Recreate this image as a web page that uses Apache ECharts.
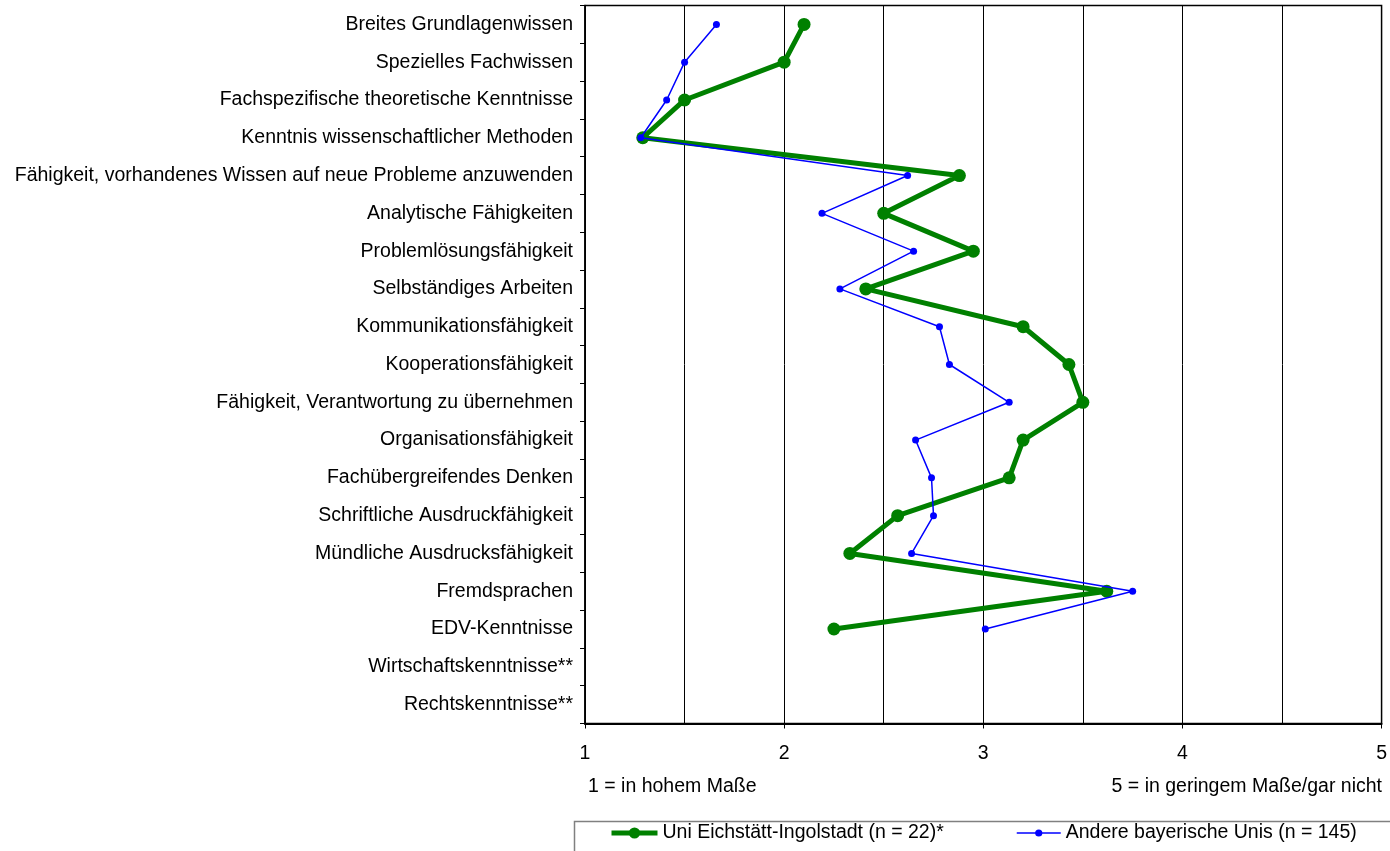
<!DOCTYPE html>
<html>
<head>
<meta charset="utf-8">
<script src="https://cdn.jsdelivr.net/npm/echarts@6/dist/echarts.min.js"></script>
<style>
html,body{margin:0;padding:0;background:#fff;}
#chart{width:1390px;height:851px;}
</style>
</head>
<body>
<div id="chart"></div>
<script>
var categories = [
  "Breites Grundlagenwissen",
  "Spezielles Fachwissen",
  "Fachspezifische theoretische Kenntnisse",
  "Kenntnis wissenschaftlicher Methoden",
  "Fähigkeit, vorhandenes Wissen auf neue Probleme anzuwenden",
  "Analytische Fähigkeiten",
  "Problemlösungsfähigkeit",
  "Selbständiges Arbeiten",
  "Kommunikationsfähigkeit",
  "Kooperationsfähigkeit",
  "Fähigkeit, Verantwortung zu übernehmen",
  "Organisationsfähigkeit",
  "Fachübergreifendes Denken",
  "Schriftliche Ausdruckfähigkeit",
  "Mündliche Ausdrucksfähigkeit",
  "Fremdsprachen",
  "EDV-Kenntnisse",
  "Wirtschaftskenntnisse**",
  "Rechtskenntnisse**"
];
var eichstaett = [2.10, 2.00, 1.50, 1.29, 2.88, 2.50, 2.95, 2.41, 3.20, 3.43, 3.50, 3.20, 3.13, 2.57, 2.33, 3.62, 2.25, null, null];
var andere = [1.66, 1.50, 1.41, 1.28, 2.62, 2.19, 2.65, 2.28, 2.78, 2.83, 3.13, 2.66, 2.74, 2.75, 2.64, 3.75, 3.01, null, null];
var seriesNames = ["Uni Eichstätt-Ingolstadt (n = 22)*", "Andere bayerische Unis (n = 145)"];
var scaleNotes = ["1 = in hohem Maße", "5 = in geringem Maße/gar nicht"];

var FONT = "Liberation Sans, Arial, sans-serif";
var FS = 19.5;
var chart = echarts.init(document.getElementById('chart'), null, {renderer: 'canvas'});
chart.setOption({
  animation: false,
  backgroundColor: '#fff',
  grid: {left: 585, right: 8, top: 5.5, bottom: 127.5, show: true, borderColor: '#000', borderWidth: 1.5},
  xAxis: {
    type: 'value', min: 1, max: 5, interval: 1,
    axisLine: {show: true, onZero: false, lineStyle: {color: '#000', width: 2}},
    axisTick: {show: true, length: 5, lineStyle: {color: '#000'}},
    axisLabel: {fontFamily: FONT, fontSize: FS, color: '#000', margin: 20},
    splitLine: {show: true, lineStyle: {color: '#000', width: 1}},
    minorTick: {show: false, splitNumber: 2},
    minorSplitLine: {show: true, lineStyle: {color: '#000', width: 1}}
  },
  yAxis: {
    type: 'category', data: categories, inverse: true, boundaryGap: true,
    axisLine: {show: true, lineStyle: {color: '#000', width: 1.5}},
    axisTick: {show: true, length: 5, lineStyle: {color: '#000'}},
    axisLabel: {fontFamily: FONT, fontSize: FS, color: '#000', margin: 12},
    splitLine: {show: false}
  },
  legend: [
    {
      data: [seriesNames[0]], left: 604, top: 818, itemWidth: 46, itemHeight: 14,
      lineStyle: {width: 5},
      textStyle: {fontFamily: FONT, fontSize: FS, color: '#000'}
    },
    {
      data: [seriesNames[1]], left: 1011, top: 818, itemWidth: 44, itemHeight: 9,
      lineStyle: {width: 1.5},
      textStyle: {fontFamily: FONT, fontSize: FS, color: '#000'}
    }
  ],
  graphic: [
    {type: 'rect', left: 572, top: 819, shape: {width: 830, height: 60}, style: {fill: 'none', stroke: '#808080', lineWidth: 1.5}, z: 0},
    {type: 'text', left: 588, top: 777, style: {text: scaleNotes[0], fontFamily: FONT, fontSize: FS, fill: '#000'}},
    {type: 'text', right: 8, top: 777, style: {text: scaleNotes[1], fontFamily: FONT, fontSize: FS, fill: '#000'}}
  ],
  series: [
    {
      name: seriesNames[0], type: 'line', data: eichstaett,
      symbol: 'circle', symbolSize: 13,
      lineStyle: {color: '#008000', width: 5},
      itemStyle: {color: '#008000'}, z: 3
    },
    {
      name: seriesNames[1], type: 'line', data: andere,
      symbol: 'circle', symbolSize: 7,
      lineStyle: {color: '#0000ff', width: 1.5},
      itemStyle: {color: '#0000ff'}, z: 4
    }
  ]
});
</script>
</body>
</html>
